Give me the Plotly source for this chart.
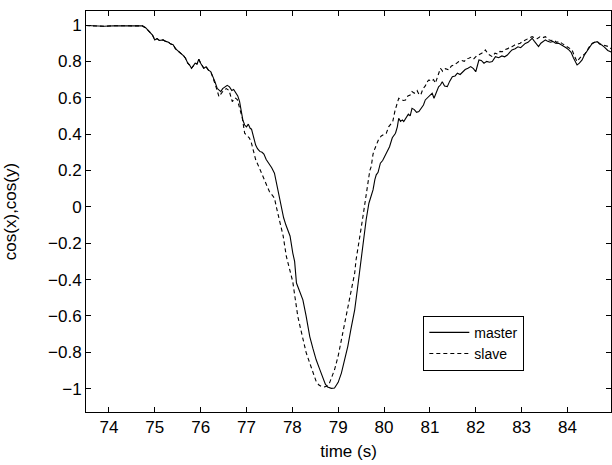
import plotly.graph_objects as go

# ---- data ----
master_t = [73.50, 73.70, 73.90, 74.10, 74.30, 74.50, 74.65, 74.73, 74.80, 74.88, 74.95, 75.00,
            75.05, 75.10, 75.18, 75.24, 75.30, 75.35, 75.40, 75.45, 75.52, 75.58, 75.63, 75.67,
            75.72, 75.76, 75.80, 75.84, 75.88, 75.92, 75.96, 76.00, 76.04, 76.07, 76.12, 76.17,
            76.22, 76.27, 76.31, 76.36, 76.40, 76.44, 76.48, 76.53, 76.58, 76.63, 76.68, 76.72,
            76.76, 76.81, 76.85, 76.89, 76.92, 76.96, 77.00, 77.04, 77.08, 77.11, 77.15, 77.20,
            77.24, 77.29, 77.34, 77.38, 77.43, 77.47, 77.50, 77.55, 77.61, 77.66, 77.71, 77.76,
            77.81, 77.86, 77.90, 77.95, 78.01, 78.05, 78.09, 78.15, 78.23, 78.30, 78.38, 78.45,
            78.52, 78.60, 78.67, 78.72, 78.77, 78.85, 78.92, 79.00, 79.07, 79.14, 79.21, 79.28,
            79.36, 79.42, 79.47, 79.50, 79.55, 79.61, 79.67, 79.72, 79.76, 79.80, 79.83, 79.87,
            79.92, 79.97, 80.01, 80.07, 80.12, 80.18, 80.25, 80.29, 80.32, 80.36, 80.40, 80.43,
            80.48, 80.53, 80.57, 80.61, 80.66, 80.71, 80.76, 80.81, 80.86, 80.90, 80.95, 81.00,
            81.05, 81.09, 81.14, 81.19, 81.23, 81.27, 81.32, 81.38, 81.43, 81.49, 81.55, 81.60,
            81.66, 81.71, 81.77, 81.83, 81.89, 81.95, 82.00, 82.04, 82.07, 82.12, 82.18, 82.24,
            82.30, 82.36, 82.43, 82.50, 82.57, 82.63, 82.69, 82.74, 82.79, 82.86, 82.92, 82.98,
            83.03, 83.08, 83.14, 83.19, 83.23, 83.28, 83.33, 83.37, 83.42, 83.47, 83.52, 83.57,
            83.63, 83.68, 83.74, 83.81, 83.87, 83.92, 83.97, 84.03, 84.08, 84.13, 84.17, 84.21,
            84.26, 84.32, 84.37, 84.43, 84.49, 84.54, 84.60, 84.65, 84.70, 84.75, 84.80, 84.83,
            84.88, 84.94, 85.00]
master_v = [0.997, 0.995, 0.993, 0.996, 0.995, 0.997, 0.996, 0.995, 0.985, 0.965, 0.945, 0.918,
            0.925, 0.915, 0.918, 0.910, 0.905, 0.895, 0.892, 0.870, 0.855, 0.845, 0.830, 0.817,
            0.790, 0.780, 0.762, 0.775, 0.790, 0.785, 0.812, 0.790, 0.775, 0.762, 0.770, 0.752,
            0.744, 0.715, 0.690, 0.652, 0.640, 0.634, 0.650, 0.660, 0.668, 0.660, 0.640, 0.645,
            0.628, 0.610, 0.579, 0.530, 0.478, 0.450, 0.440, 0.455, 0.432, 0.427, 0.385, 0.340,
            0.320, 0.305, 0.300, 0.290, 0.260, 0.245, 0.231, 0.215, 0.185, 0.120, 0.050, -0.016,
            -0.060, -0.100, -0.126, -0.160, -0.254, -0.300, -0.419, -0.460, -0.511, -0.600, -0.713, -0.780,
            -0.841, -0.895, -0.941, -0.975, -0.991, -0.998, -0.996, -0.965, -0.914, -0.845, -0.767, -0.670,
            -0.566, -0.450, -0.346, -0.291, -0.180, -0.071, 0.020, 0.060, 0.093, 0.150, 0.176, 0.190,
            0.240, 0.255, 0.276, 0.313, 0.331, 0.380, 0.405, 0.440, 0.487, 0.470, 0.478, 0.469,
            0.490, 0.510, 0.500, 0.542, 0.535, 0.520, 0.524, 0.545, 0.560, 0.588, 0.600, 0.610,
            0.625, 0.597, 0.630, 0.660, 0.670, 0.688, 0.665, 0.661, 0.690, 0.716, 0.720, 0.735,
            0.728, 0.743, 0.755, 0.762, 0.771, 0.760, 0.743, 0.780, 0.808, 0.805, 0.790, 0.800,
            0.795, 0.799, 0.826, 0.820, 0.830, 0.825, 0.835, 0.850, 0.863, 0.870, 0.880, 0.875,
            0.890, 0.899, 0.905, 0.915, 0.927, 0.910, 0.895, 0.881, 0.900, 0.910, 0.918, 0.910,
            0.905, 0.910, 0.900, 0.899, 0.890, 0.885, 0.875, 0.863, 0.850, 0.820, 0.795, 0.780,
            0.790, 0.808, 0.835, 0.860, 0.880, 0.899, 0.905, 0.908, 0.895, 0.890, 0.880, 0.872,
            0.860, 0.853, 0.850]

slave_t = [73.50, 73.70, 73.90, 74.10, 74.30, 74.50, 74.65, 74.73, 74.80, 74.88, 74.95, 75.00,
           75.05, 75.10, 75.18, 75.24, 75.30, 75.35, 75.40, 75.45, 75.52, 75.58, 75.63, 75.67,
           75.72, 75.76, 75.80, 75.84, 75.88, 75.92, 75.96, 76.00, 76.04, 76.07, 76.12, 76.17,
           76.22, 76.27, 76.31,
           76.36, 76.40, 76.44, 76.50, 76.56, 76.62, 76.69, 76.75, 76.80, 76.85, 76.91, 76.96,
           77.02, 77.06, 77.10, 77.15, 77.20, 77.27, 77.33, 77.40, 77.45, 77.50, 77.56, 77.61,
           77.66, 77.72, 77.76, 77.80, 77.87, 77.94, 78.01, 78.06, 78.12, 78.18, 78.23, 78.30,
           78.38, 78.45, 78.52, 78.58, 78.63, 78.70, 78.76, 78.81, 78.86, 78.92, 79.00, 79.07,
           79.14, 79.21, 79.28, 79.36, 79.39, 79.43, 79.48, 79.54, 79.60, 79.65, 79.69, 79.72,
           79.76, 79.80, 79.83, 79.88, 79.94, 80.00, 80.05, 80.10, 80.15, 80.19, 80.24, 80.28,
           80.32, 80.37, 80.42, 80.47, 80.52, 80.57, 80.61, 80.66, 80.72, 80.76, 80.80, 80.85,
           80.90, 80.95, 80.98, 81.03, 81.08, 81.12, 81.18, 81.23, 81.28, 81.34, 81.41, 81.47,
           81.53, 81.58, 81.63, 81.69, 81.75, 81.80, 81.85, 81.91, 81.96, 82.02, 82.07, 82.13,
           82.17, 82.21, 82.27, 82.32, 82.36, 82.42, 82.48, 82.53, 82.58, 82.64, 82.70, 82.75,
           82.79, 82.85, 82.91, 82.97, 83.02, 83.08, 83.13, 83.18, 83.23, 83.28, 83.34, 83.40,
           83.46, 83.52, 83.58, 83.64, 83.70, 83.76, 83.82, 83.88, 83.94, 84.00, 84.05, 84.10,
           84.15, 84.18, 84.21, 84.26, 84.31, 84.35, 84.39, 84.44, 84.49, 84.55, 84.61, 84.67,
           84.72, 84.78, 84.84, 84.90, 84.95, 85.00]
slave_v = [0.997, 0.995, 0.993, 0.996, 0.995, 0.997, 0.996, 0.995, 0.985, 0.965, 0.945, 0.918,
           0.925, 0.915, 0.918, 0.910, 0.905, 0.895, 0.892, 0.870, 0.855, 0.845, 0.830, 0.817,
           0.790, 0.780, 0.762, 0.775, 0.790, 0.785, 0.812, 0.790, 0.775, 0.762, 0.770, 0.752,
           0.744, 0.712, 0.680,
           0.640, 0.606, 0.620, 0.640, 0.650, 0.640, 0.579, 0.600, 0.590, 0.540, 0.487, 0.405,
           0.386, 0.380, 0.359, 0.300, 0.260, 0.220, 0.185, 0.140, 0.110, 0.084, 0.065, 0.048,
           -0.010, -0.080, -0.126, -0.160, -0.273, -0.340, -0.412, -0.500, -0.603, -0.670, -0.731, -0.800,
           -0.859, -0.915, -0.960, -0.980, -0.987, -0.990, -0.985, -0.969, -0.940, -0.896, -0.820, -0.731,
           -0.640, -0.548, -0.460, -0.364, -0.291, -0.236, -0.150, -0.053, 0.060, 0.148, 0.200, 0.221,
           0.290, 0.320, 0.341, 0.370, 0.390, 0.400, 0.405, 0.440, 0.460, 0.469, 0.530, 0.560,
           0.597, 0.590, 0.585, 0.588, 0.610, 0.615, 0.634, 0.625, 0.640, 0.620, 0.615, 0.650,
           0.665, 0.690, 0.698, 0.690, 0.700, 0.680, 0.720, 0.762, 0.745, 0.760, 0.753, 0.775,
           0.780, 0.790, 0.799, 0.805, 0.800, 0.815, 0.817, 0.825, 0.815, 0.830, 0.835, 0.845,
           0.850, 0.863, 0.840, 0.830, 0.826, 0.845, 0.840, 0.855, 0.853, 0.865, 0.870, 0.880,
           0.881, 0.890, 0.895, 0.900, 0.910, 0.918, 0.925, 0.930, 0.936, 0.930, 0.925, 0.935,
           0.930, 0.936, 0.920, 0.915, 0.918, 0.905, 0.910, 0.899, 0.890, 0.880, 0.872, 0.863,
           0.830, 0.810, 0.799, 0.815, 0.830, 0.835, 0.844, 0.865, 0.885, 0.900, 0.908, 0.905,
           0.895, 0.890, 0.885, 0.881, 0.870, 0.865]

x_ticks = [74, 75, 76, 77, 78, 79, 80, 81, 82, 83, 84]
y_ticks = [-1, -0.8, -0.6, -0.4, -0.2, 0, 0.2, 0.4, 0.6, 0.8, 1]
series_names = ["master", "slave"]

FONT = "Liberation Sans, Arial, sans-serif"

fig = go.Figure()
fig.add_trace(go.Scatter(x=master_t, y=master_v, mode="lines", name=series_names[0],
                         line=dict(color="black", width=1.1)))
fig.add_trace(go.Scatter(x=slave_t, y=slave_v, mode="lines", name=series_names[1],
                         line=dict(color="black", width=1.1, dash="4px,3px")))

axis_common = dict(showline=True, linecolor="black", linewidth=1, mirror="ticks",
                   ticks="inside", ticklen=5, tickcolor="black", tickwidth=1,
                   showgrid=False, zeroline=False, automargin=False,
                   tickfont=dict(family=FONT, size=17, color="black"))

fig.update_layout(
    width=612, height=465,
    margin=dict(l=86, r=1, t=11, b=53, autoexpand=False),
    paper_bgcolor="white", plot_bgcolor="white",
    font=dict(family=FONT, size=17, color="black"),
    xaxis=dict(range=[73.5, 84.95], tickvals=x_ticks,
               title=dict(text="time (s)", font=dict(family=FONT, size=17), standoff=8),
               **axis_common),
    yaxis=dict(range=[-1.128, 1.077], tickvals=y_ticks,
               title=dict(text="cos(x),cos(y)", font=dict(family=FONT, size=17), standoff=27),
               **axis_common),
    legend=dict(x=0.6425, y=0.24, xanchor="left", yanchor="top",
                bgcolor="white", bordercolor="black", borderwidth=1,
                font=dict(family=FONT, size=14), tracegroupgap=0,
                itemwidth=40),
    showlegend=True,
)

# remove the default page margin so the 612x465 figure fills the window exactly
fig.write_html("out.html",
               config={"displayModeBar": False},
               post_script="document.body.style.margin='0';document.body.style.overflow='hidden';")
